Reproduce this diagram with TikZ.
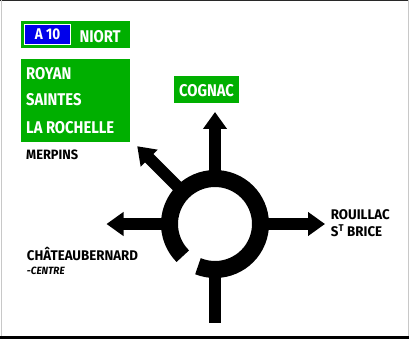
\documentclass[tikz,border=0pt]{standalone}
\usepackage{fontspec}
\setmainfont{Fira Sans}
\newfontfamily\panelfont[FakeStretch=0.87]{Fira Sans}
\newfontfamily\placefont[FakeStretch=0.95]{Fira Sans}
\usepackage{xcolor}
\definecolor{SignGreen}{RGB}{0,175,0}
\definecolor{SignBlue}{RGB}{0,0,235}
\definecolor{FrameGray}{RGB}{200,200,200}
\definecolor{FrameDark}{RGB}{40,40,40}
\usepackage{tikz}
\usetikzlibrary{arrows.meta, positioning, calc}
\tikzset{
  % Green direction panels
  panel/.style={
    rectangle, fill=SignGreen, inner sep=0pt, anchor=north west
  },
  % Motorway number plate
  motorway/.style={
    rectangle, fill=SignBlue, draw=white, line width=1pt,
    inner sep=0pt, anchor=north west
  },
  % Panel text
  ptext/.style={
    font=\panelfont\bfseries\fontsize{17}{20}\selectfont,
    text=white, inner sep=0pt, anchor=base west
  },
  % Local destinations
  place/.style={
    font=\placefont\bfseries\fontsize{14}{16}\selectfont,
    inner sep=0pt, anchor=base west
  },
  % Roads
  road/.style={line width=12pt, black},
  exit/.style={road, -{Triangle[length=17pt,width=23pt]}},
  ring/.style={line width=17pt, black},
}

\begin{document}
\begin{tikzpicture}[x=1pt, y=1pt]
  \useasboundingbox (0,0) rectangle (409,-339);

  %% Frame
  \draw[FrameDark, line width=1.2pt] (0,-0.6) -- (409,-0.6);
  \draw[FrameGray, line width=1pt] (1.5,0) -- (1.5,-336);
  \draw[FrameGray, line width=1pt] (408.5,0) -- (408.5,-336);
  \draw[black, line width=3pt] (0,-337.5) -- (409,-337.5);

  %% Panels
  \node[panel, minimum width=108.3pt, minimum height=27.3pt] (niort panel) at (21,-21) {};
  \node[motorway, minimum width=46.5pt, minimum height=20.7pt] (a10) at (23.8,-23.8) {};
  \node[ptext, anchor=center, font=\panelfont\bfseries\fontsize{15.5}{17}\selectfont] (a10 text) at (a10.center) {A 10};
  \node[ptext] (niort) at (79.3,-42.5) {NIORT};

  \node[panel, minimum width=108.3pt, minimum height=82.7pt] (west panel) at (21,-59) {};
  \node[ptext] (royan) at (26,-80) {ROYAN};
  \node[ptext] (saintes) at (26,-106) {SAINTES};
  \node[ptext] (rochelle) at (26,-134) {LA ROCHELLE};

  \node[panel, minimum width=65.7pt, minimum height=27.6pt] (cognac panel) at (173.3,-75.7) {};
  \node[ptext, anchor=base] (cognac) at (206.5,-96.5) {COGNAC};

  %% Local destinations
  \node[place, font=\placefont\bfseries\fontsize{13.5}{16}\selectfont] (merpins) at (26,-160) {MERPINS};
  \node[place] (chateau) at (26.7,-260) {CHÂTEAUBERNARD};
  \node[place, font=\placefont\bfseries\itshape\fontsize{10.5}{12}\selectfont] (centre) at (26.7,-274) {-CENTRE};
  \node[place] (rouillac) at (330.7,-219) {ROUILLAC};
  \node[place] (brice) at (330.7,-236.7) {S\textsuperscript{T} BRICE};

  %% Roundabout
  \coordinate (hub) at (215,-224);
  \draw[ring] ($(hub)+(248:45.5)$) arc[start angle=248, end angle=585, radius=45.5];

  \foreach \name/\ang in {n/90, w/180, e/0, s/270, nw/135}{
    \coordinate (hub \name) at ($(hub)+(\ang:48)$);
  }
  \coordinate (cognac end) at ($(hub)+(90:112)$);
  \coordinate (west end) at ($(hub)+(180:108.5)$);
  \coordinate (east end) at ($(hub)+(0:110)$);
  \coordinate (merpins end) at ($(hub)+(135:110)$);
  \coordinate (south end) at ($(hub)+(270:98.5)$);

  \draw[exit] (hub n) -- (cognac end);
  \draw[exit] (hub w) -- (west end);
  \draw[exit] (hub e) -- (east end);
  \draw[exit] (hub nw) -- (merpins end);
  \draw[road] (hub s) -- (south end);
\end{tikzpicture}
\end{document}
